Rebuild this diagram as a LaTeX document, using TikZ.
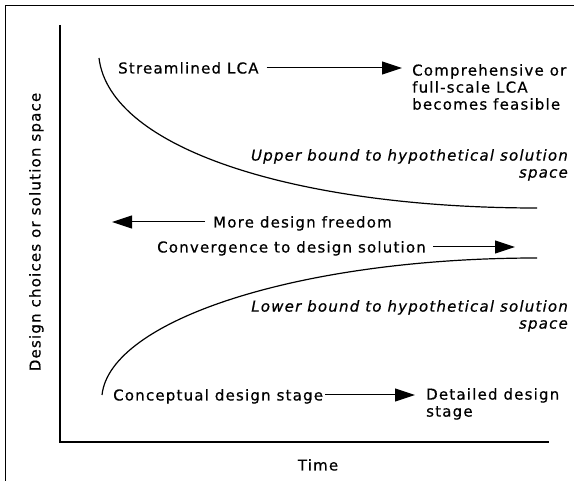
\documentclass[tikz,border=0pt]{standalone}
\usepackage{fontspec}
\setmainfont{DejaVu Sans}[LetterSpace=8,FakeBold=0.6]
\usetikzlibrary{arrows.meta}
\tikzset{
  lbl/.style={font=\fontsize{15}{17}\selectfont, inner sep=0pt, text height=11pt, text depth=0pt},
  blk/.style={font=\fontsize{15}{17}\selectfont, inner sep=0pt},
  conn/.style={-{Triangle[length=20pt,width=13pt]}, line width=1pt}
}
\begin{document}
\begin{tikzpicture}[x=1pt,y=-1pt]
\useasboundingbox (0,0) rectangle (574,481);
% frame and axes
\draw[line width=1pt] (5,481)--(5,6)--(574,6);
\draw[line width=1.8pt] (60,25)--(60,442)--(549,442);
% bounds of the solution space
\draw[line width=1.2pt] (99,58) .. controls (110,150) and (300,208) .. (537,208);
\draw[line width=1.2pt] (102,395) .. controls (110,320) and (300,258) .. (537,258);
% labels
\node[lbl,anchor=west] (stream) at (118,68) {Streamlined LCA};
\node[blk,anchor=north west,align=left] (compr) at (412,64) {Comprehensive or\\full-scale LCA\\becomes feasible};
\node[blk,anchor=north east,align=right,font=\fontsize{15}{17}\selectfont\itshape] (upper) at (568,149) {Upper bound to hypothetical solution\\space};
\node[lbl,anchor=west] (free) at (213,222) {More design freedom};
\node[lbl,anchor=west] (conv) at (157,247) {Convergence to design solution};
\node[blk,anchor=north east,align=right,font=\fontsize{15}{17}\selectfont\itshape] (lower) at (568,300) {Lower bound to hypothetical solution\\space};
\node[lbl,anchor=west] (concept) at (113,395) {Conceptual design stage};
\node[blk,anchor=north west,align=left] (detail) at (426,388) {Detailed design\\stage};
\node[lbl] (time) at (318,465) {Time};
\node[lbl,rotate=90] (ylab) at (35,232) {Design choices or solution space};
\coordinate (freetip) at (112,222);
\coordinate (convtip) at (515,247);
% arrows
\draw[conn,shorten <=8pt,shorten >=10pt] (stream.east) -- (stream.east -| compr.west);
\draw[conn,shorten <=8pt] (free.west) -- (freetip);
\draw[conn,shorten <=7pt] (conv.east) -- (convtip);
\draw[conn,shorten <=2pt,shorten >=11pt] (concept.east) -- (concept.east -| detail.west);
\end{tikzpicture}
\end{document}
